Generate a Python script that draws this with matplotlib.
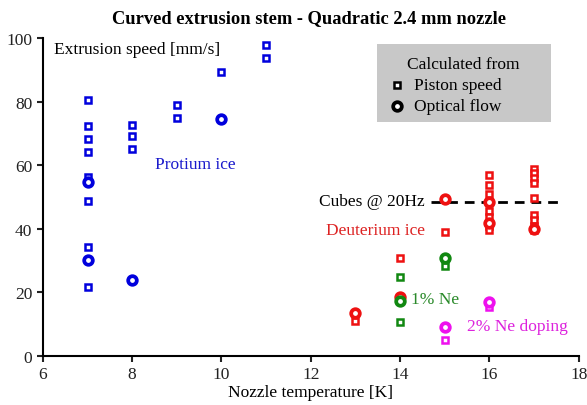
import numpy as np
import matplotlib.pyplot as plt

plt.rcParams['font.family'] = ['Liberation Serif', 'DejaVu Serif']

# protium ice (blue)
h_piston_T = [7, 7, 7, 7, 7, 7, 7, 7, 8, 8, 8, 9, 9, 10, 11, 11]
h_piston_v = [80.5, 72.4, 68.2, 64.0, 56.3, 48.6, 34.2, 21.6,
              72.7, 69.1, 65.1, 78.9, 74.7, 89.4, 97.9, 93.7]
h_optic_T = [7, 7, 8, 10]
h_optic_v = [54.6, 30.3, 23.9, 74.5]

# deuterium ice (red)
d_piston_T = [13, 14, 15, 16, 16, 16, 16, 16, 16, 16, 16,
              17, 17, 17, 17, 17, 17, 17, 17, 17]
d_piston_v = [11.1, 30.8, 38.9, 57.0, 53.6, 50.9, 48.5, 45.7, 43.6, 41.0, 39.6,
              58.8, 57.5, 56.1, 54.3, 49.6, 44.3, 42.6, 41.0, 39.5]
d_optic_T = [13, 14, 15, 16, 16, 17]
d_optic_v = [13.5, 18.4, 49.2, 48.5, 41.8, 40.0]

# 1% Ne (green)
ne1_piston_T = [14, 14, 15]
ne1_piston_v = [24.7, 10.8, 28.2]
ne1_optic_T = [14, 15]
ne1_optic_v = [17.4, 30.7]

# 2% Ne doping (magenta)
ne2_piston_T = [15, 16]
ne2_piston_v = [5.1, 15.3]
ne2_optic_T = [15, 16]
ne2_optic_v = [9.0, 16.8]

cubes_T = [14.7, 17.65]
cubes_v = [48.5, 48.5]

blue = '#0000dd'
red = '#ee1111'
green = '#118811'
magenta = '#ee11ee'

fig = plt.figure(figsize=(5.87, 4.06), dpi=100)
ax = fig.add_axes([0.073, 0.121, 0.913, 0.783])

sq = dict(marker='s', linestyle='none', markersize=5.0, markeredgewidth=1.8,
          markerfacecolor='white')
ci = dict(marker='o', linestyle='none', markersize=6.2, markeredgewidth=2.7,
          markerfacecolor='white')

ax.plot(cubes_T, cubes_v, color='black', linestyle=(0, (3.5, 2.5)), linewidth=2, zorder=1)

for T, v, c in [(h_piston_T, h_piston_v, blue), (d_piston_T, d_piston_v, red),
                (ne1_piston_T, ne1_piston_v, green), (ne2_piston_T, ne2_piston_v, magenta)]:
    ax.plot(T, v, color=c, markeredgecolor=c, **sq)
for T, v, c in [(h_optic_T, h_optic_v, blue), (d_optic_T, d_optic_v, red),
                (ne1_optic_T, ne1_optic_v, green), (ne2_optic_T, ne2_optic_v, magenta)]:
    ax.plot(T, v, color=c, markeredgecolor=c, **ci)

ax.set_xlim(6, 18)
ax.set_ylim(0, 100)
ax.set_xticks(np.arange(6, 19, 2))
ax.set_yticks(np.arange(0, 101, 20))
for s in ['top', 'right']:
    ax.spines[s].set_visible(False)
for s in ['left', 'bottom']:
    ax.spines[s].set_linewidth(1.5)
ax.tick_params(direction='out', length=4, width=1.5, labelsize=12.5, colors='#222222')
ax.set_xlabel('Nozzle temperature [K]', fontsize=12.5, labelpad=1)

fig.text(0.527, 0.955, 'Curved extrusion stem - Quadratic 2.4 mm nozzle',
         ha='center', va='center', fontsize=13.3, fontweight='bold')

ax.text(6.25, 96.5, 'Extrusion speed [mm/s]', fontsize=12.5, va='center')
ax.text(8.5, 60.5, 'Protium ice', fontsize=12.5, color='#1a1acc', va='center')
ax.text(14.55, 48.8, 'Cubes @ 20Hz', fontsize=12.5, ha='right', va='center')
ax.text(14.55, 39.5, 'Deuterium ice', fontsize=12.5, color='#dd2222', ha='right', va='center')
ax.text(14.25, 18.0, '1% Ne', fontsize=12.5, color='#2a8a2a', va='center')
ax.text(15.5, 9.5, '2% Ne doping', fontsize=12.5, color='#dd22dd', va='center')

# legend box
ax.add_patch(plt.Rectangle((13.48, 73.6), 3.89, 24.5, facecolor='#c8c8c8',
                           edgecolor='none', zorder=0))
ax.text(15.42, 91.8, 'Calculated from', fontsize=12.5, ha='center', va='center')
ax.plot([13.92], [85.2], color='black', markeredgecolor='black', **sq)
ax.plot([13.92], [78.6], color='black', markeredgecolor='black', **ci)
ax.text(14.3, 85.2, 'Piston speed', fontsize=12.5, va='center')
ax.text(14.3, 78.6, 'Optical flow', fontsize=12.5, va='center')

fig.savefig('out.png', dpi=100)
